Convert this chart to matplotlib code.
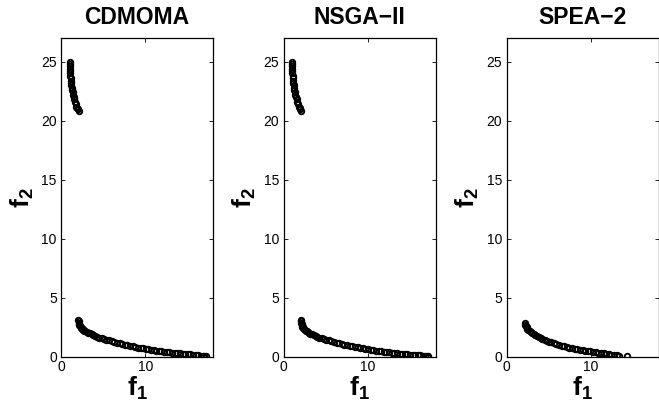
# Fronts de Pareto : CDMOMA / NSGA-II / SPEA-2
import matplotlib
matplotlib.use('Agg')
import matplotlib.pyplot as plt

# ---------------- données ----------------
titles = ['CDMOMA', 'NSGA\u2212II', 'SPEA\u22122']
x_ticks = [0, 10]
y_ticks = [0, 5, 10, 15, 20, 25]

# CDMOMA - branche haute
cd_hi_f1 = [1.06, 1.06, 1.07, 1.08, 1.09, 1.10, 1.12, 1.14, 1.16, 1.19, 1.23, 1.27,
            1.32, 1.38, 1.44, 1.51, 1.58, 1.66, 1.74, 1.83, 1.93, 2.03, 2.12]
cd_hi_f2 = [25.0, 24.8, 24.6, 24.4, 24.2, 24.0, 23.8, 23.6, 23.4, 23.2, 23.0, 22.8,
            22.6, 22.4, 22.2, 22.0, 21.8, 21.6, 21.4, 21.2, 21.05, 20.95, 20.85]
# CDMOMA - branche basse
cd_lo_f1 = [2.07, 2.09, 2.12, 2.15, 2.19, 2.25, 2.31, 2.38, 2.46, 2.56, 2.66, 2.77,
            2.90, 3.05, 3.21, 3.42, 3.62, 3.83, 4.04, 4.30, 4.55, 4.81, 5.07, 5.38,
            5.69, 6.00, 6.31, 6.62, 6.93, 7.25, 7.56, 7.87, 8.18, 8.49, 8.80, 9.11,
            9.42, 9.73, 10.04, 10.35, 10.66, 10.97, 11.28, 11.59, 11.90, 12.21, 12.52,
            12.83, 13.14, 13.46, 13.77, 14.08, 14.39, 14.70, 15.01, 15.32, 15.63,
            15.94, 16.25, 16.56, 16.77, 16.97, 17.13]
cd_lo_f2 = [3.15, 3.02, 2.90, 2.80, 2.71, 2.62, 2.54, 2.47, 2.41, 2.35, 2.29, 2.23,
            2.17, 2.11, 2.05, 1.99, 1.92, 1.85, 1.79, 1.72, 1.65, 1.59, 1.53, 1.47,
            1.40, 1.34, 1.28, 1.22, 1.16, 1.10, 1.04, 0.99, 0.94, 0.89, 0.85, 0.80,
            0.76, 0.72, 0.68, 0.64, 0.61, 0.57, 0.54, 0.51, 0.48, 0.45, 0.42,
            0.40, 0.37, 0.35, 0.33, 0.30, 0.28, 0.26, 0.24, 0.22, 0.20,
            0.17, 0.14, 0.11, 0.09, 0.07, 0.05]

# NSGA-II - branche haute
ns_hi_f1 = [1.00, 1.01, 1.02, 1.03, 1.04, 1.06, 1.08, 1.10, 1.13, 1.16, 1.20, 1.25,
            1.30, 1.36, 1.42, 1.49, 1.56, 1.64, 1.72, 1.81, 1.91, 2.01, 2.11]
ns_hi_f2 = [25.0, 24.8, 24.6, 24.4, 24.2, 24.0, 23.8, 23.6, 23.4, 23.2, 23.0, 22.8,
            22.6, 22.4, 22.2, 22.0, 21.8, 21.6, 21.4, 21.2, 21.05, 20.95, 20.85]
# NSGA-II - branche basse
ns_lo_f1 = [2.06, 2.08, 2.11, 2.14, 2.18, 2.23, 2.29, 2.36, 2.44, 2.53, 2.63, 2.74,
            2.87, 3.02, 3.18, 3.38, 3.58, 3.79, 4.00, 4.26, 4.52, 4.78, 5.04, 5.35,
            5.66, 5.97, 6.28, 6.59, 6.90, 7.22, 7.53, 7.84, 8.15, 8.46, 8.77, 9.08,
            9.39, 9.70, 10.01, 10.32, 10.63, 10.94, 11.25, 11.56, 11.87, 12.18, 12.49,
            12.80, 13.11, 13.43, 13.74, 14.05, 14.36, 14.67, 14.98, 15.29, 15.60,
            15.91, 16.22, 16.53, 16.74, 16.94, 17.10]
ns_lo_f2 = [3.15, 3.01, 2.88, 2.77, 2.67, 2.58, 2.50, 2.42, 2.35, 2.28, 2.22, 2.16,
            2.10, 2.04, 1.98, 1.91, 1.84, 1.77, 1.71, 1.64, 1.58, 1.52, 1.46, 1.40,
            1.34, 1.28, 1.22, 1.16, 1.10, 1.05, 0.99, 0.94, 0.90, 0.85, 0.81, 0.76,
            0.72, 0.68, 0.64, 0.61, 0.57, 0.54, 0.50, 0.47, 0.44, 0.41, 0.39,
            0.36, 0.34, 0.31, 0.29, 0.27, 0.25, 0.23, 0.21, 0.19, 0.17,
            0.15, 0.13, 0.11, 0.09, 0.07, 0.06]

# SPEA-2 - une seule branche
sp_f1 = [2.17, 2.22, 2.28, 2.38, 2.48, 2.59, 2.74, 2.90, 3.05, 3.21, 3.42, 3.62,
         3.83, 4.04, 4.24, 4.50, 4.76, 5.02, 5.28, 5.59, 5.90, 6.21, 6.52, 6.83,
         7.14, 7.45, 7.76, 8.07, 8.38, 8.69, 9.00, 9.32, 9.63, 9.94, 10.25, 10.56,
         10.87, 11.18, 11.49, 11.80, 12.11, 12.42, 12.73, 13.04, 13.30, 14.30]
sp_f2 = [2.85, 2.72, 2.62, 2.50, 2.40, 2.31, 2.21, 2.12, 2.04, 1.97, 1.86, 1.76,
         1.67, 1.59, 1.52, 1.44, 1.36, 1.29, 1.23, 1.16, 1.09, 1.03, 0.97, 0.91,
         0.85, 0.80, 0.76, 0.71, 0.67, 0.62, 0.58, 0.54, 0.51, 0.47, 0.44, 0.40,
         0.37, 0.33, 0.30, 0.27, 0.24, 0.21, 0.18, 0.15, 0.12, 0.05]

fronts = [
    [(cd_hi_f1, cd_hi_f2), (cd_lo_f1, cd_lo_f2)],
    [(ns_hi_f1, ns_hi_f2), (ns_lo_f1, ns_lo_f2)],
    [(sp_f1, sp_f2)],
]

# ---------------- style façon MATLAB ----------------
plt.rcParams['font.family'] = 'Liberation Sans'
plt.rcParams['mathtext.fontset'] = 'custom'
plt.rcParams['mathtext.bf'] = 'Liberation Sans:bold'
plt.rcParams['mathtext.rm'] = 'Liberation Sans'

fig = plt.figure(figsize=(6.59, 4.07), dpi=100)
lefts = [61 / 659, 283.5 / 659, 506.5 / 659]
bottom = 50 / 407
width = 152 / 659
height = 319 / 407

for i, left in enumerate(lefts):
    ax = fig.add_axes([left, bottom, width, height])
    for f1, f2 in fronts[i]:
        ax.plot(f1, f2, linestyle='none', marker='o', markersize=4.0,
                markerfacecolor='none', markeredgecolor='black',
                markeredgewidth=1.3)
    ax.set_xlim(0, 18)
    ax.set_ylim(0, 27)
    ax.set_xticks(x_ticks)
    ax.set_yticks(y_ticks)
    ax.tick_params(direction='in', length=3, width=0.6, labelsize=10,
                   top=True, right=True, pad=3)
    ax.tick_params(axis='x', pad=2)
    for sp in ax.spines.values():
        sp.set_linewidth(0.9)
    ax.set_title(titles[i], fontsize=16.5, fontweight='bold', pad=10)
    ax.set_xlabel(r'$\mathbf{f_1}$', fontsize=19, labelpad=1)
    ax.set_ylabel(r'$\mathbf{f_2}$', fontsize=19, labelpad=4)

plt.savefig('out.png', dpi=100)
